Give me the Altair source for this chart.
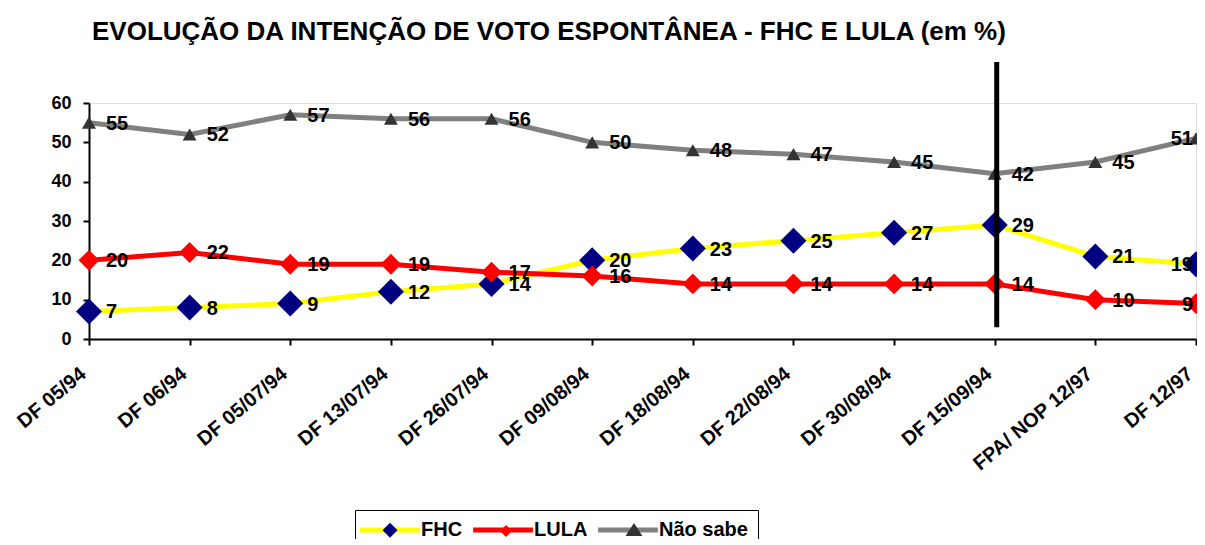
import altair as alt
import pandas as pd

dates = ["DF 05/94", "DF 06/94", "DF 05/07/94", "DF 13/07/94", "DF 26/07/94",
         "DF 09/08/94", "DF 18/08/94", "DF 22/08/94", "DF 30/08/94", "DF 15/09/94",
         "FPA/ NOP 12/97", "DF 12/97"]
series = ["FHC", "LULA", "Não sabe"]
fhc = [7, 8, 9, 12, 14, 20, 23, 25, 27, 29, 21, 19]
lula = [20, 22, 19, 19, 17, 16, 14, 14, 14, 14, 10, 9]
nao_sabe = [55, 52, 57, 56, 56, 50, 48, 47, 45, 42, 45, 51]
y_ticks = [0, 10, 20, 30, 40, 50, 60]
divider_date = "DF 15/09/94"
divider_span = [3, 70.4]

line_colors = ["#FFFF00", "#FF0000", "#808080"]
marker_colors = ["#000080", "#FF0000", "#333333"]
marker_shapes = ["diamond", "diamond", "triangle-up"]
marker_sizes = [676, 196, 324]
legend_line_path = "M-4.6,0L4.6,0"
legend_extent = "M-4.985,0L4.985,0"
legend_paths = ["M0,-1.15L1.15,0L0,1.15L-1.15,0Z" + legend_extent,
                "M0,-0.92L0.92,0L0,0.92L-0.92,0Z" + legend_extent,
                "M-1.3,0.62L0,-1.38L1.3,0.62Z" + legend_extent]

TITLE = "EVOLUÇÃO DA INTENÇÃO DE VOTO ESPONTÂNEA - FHC E LULA (em %)"
FONT = "Liberation Sans"

rows = []
for name, vals in zip(series, [fhc, lula, nao_sabe]):
    for i, (d, v) in enumerate(zip(dates, vals)):
        rows.append({"date": d, "series": name, "value": v,
                     "last": i == len(dates) - 1, "order": i})
df = pd.DataFrame(rows)
rule_df = pd.DataFrame({"date": [divider_date], "y0": [divider_span[0]], "y1": [divider_span[1]]})

x_enc = alt.X("date:N", sort=dates, title=None,
              scale=alt.Scale(type="point", domain=dates, padding=0),
              axis=alt.Axis(labelAngle=-40, labelAlign="right", labelBaseline="middle",
                            labelFont=FONT, labelFontSize=20, labelFontWeight="bold",
                            labelColor="black", labelPadding=26, labelOffset=-6,
                            labelOverlap=False, labelLimit=0,
                            tickSize=6, tickWidth=2, tickColor="black",
                            domainWidth=2, domainColor="black", grid=False))
y_scale = alt.Scale(domain=[0, 60], nice=False, zero=True)
y_axis = alt.Axis(values=y_ticks, tickCount=7,
                  labelFont=FONT, labelFontSize=18, labelFontWeight="bold",
                  labelColor="black", labelPadding=12, labelOverlap=False,
                  tickSize=6, tickWidth=2, tickColor="black",
                  domainWidth=2, domainColor="black", grid=False)
y_enc = alt.Y("value:Q", title=None, scale=y_scale, axis=y_axis)

legend_common = dict(orient="none", legendX=266, legendY=407, direction="horizontal",
                     title=None, symbolSize=169, symbolStrokeWidth=5, symbolOffset=15,
                     labelOffset=21, labelFont=FONT, labelFontSize=20,
                     labelFontWeight="bold", padding=10,
                     columnPadding=0, labelLimit=0)

base = alt.Chart(df)

lines = base.mark_line(strokeWidth=5).encode(
    x=x_enc, y=y_enc,
    color=alt.Color("series:N", sort=series,
                    scale=alt.Scale(domain=series, range=line_colors),
                    legend=alt.Legend(symbolType=legend_line_path, labelColor="black",
                                      strokeColor="black", **legend_common)),
    order="order:Q",
)

markers = base.mark_point(filled=True, opacity=1).encode(
    x=x_enc, y=y_enc,
    shape=alt.Shape("series:N", scale=alt.Scale(domain=series, range=marker_shapes), legend=None),
    fill=alt.Fill("series:N", scale=alt.Scale(domain=series, range=marker_colors), legend=None),
    size=alt.Size("series:N", scale=alt.Scale(domain=series, range=marker_sizes), legend=None),
)

marker_legend = alt.Legend(symbolStrokeColor="transparent", labelColor="transparent",
                           **legend_common)
legend_markers = base.transform_filter("datum.value < -1000").mark_point(
    filled=True, opacity=1).encode(
    x=x_enc, y=y_enc,
    shape=alt.Shape("series:N", scale=alt.Scale(domain=series, range=legend_paths),
                    legend=marker_legend),
    fill=alt.Fill("series:N", scale=alt.Scale(domain=series, range=marker_colors),
                  legend=marker_legend),
)

rule = alt.Chart(rule_df).mark_rule(strokeWidth=5, color="black", xOffset=2).encode(
    x=x_enc,
    y=alt.Y("y0:Q", title=None, scale=y_scale, axis=y_axis),
    y2="y1:Q",
)

text_style = dict(font=FONT, fontSize=20, fontWeight="bold", color="black", baseline="middle")
labels = base.transform_filter("!datum.last").mark_text(align="left", dx=17, dy=1, **text_style).encode(
    x=x_enc, y=y_enc, text="value:Q")
labels_last = base.transform_filter("datum.last").mark_text(align="right", dx=-3, dy=1, **text_style).encode(
    x=x_enc, y=y_enc, text="value:Q")

chart = alt.layer(lines, markers, legend_markers, rule, labels, labels_last).resolve_scale(
    shape="independent", fill="independent", size="independent"
).properties(
    width=1107, height=236,
    autosize=alt.AutoSizeParams(type="none"),
    padding={"left": 81, "top": 95, "right": 1, "bottom": 200},
    title=alt.Title(TITLE, anchor="start", frame="group", dx=3, offset=15,
                    font=FONT, fontSize=26, fontWeight="bold", color="black"),
).configure_view(stroke=None).configure(background="white")

chart.save("out.html", embed_options={"renderer": "svg", "actions": False})
